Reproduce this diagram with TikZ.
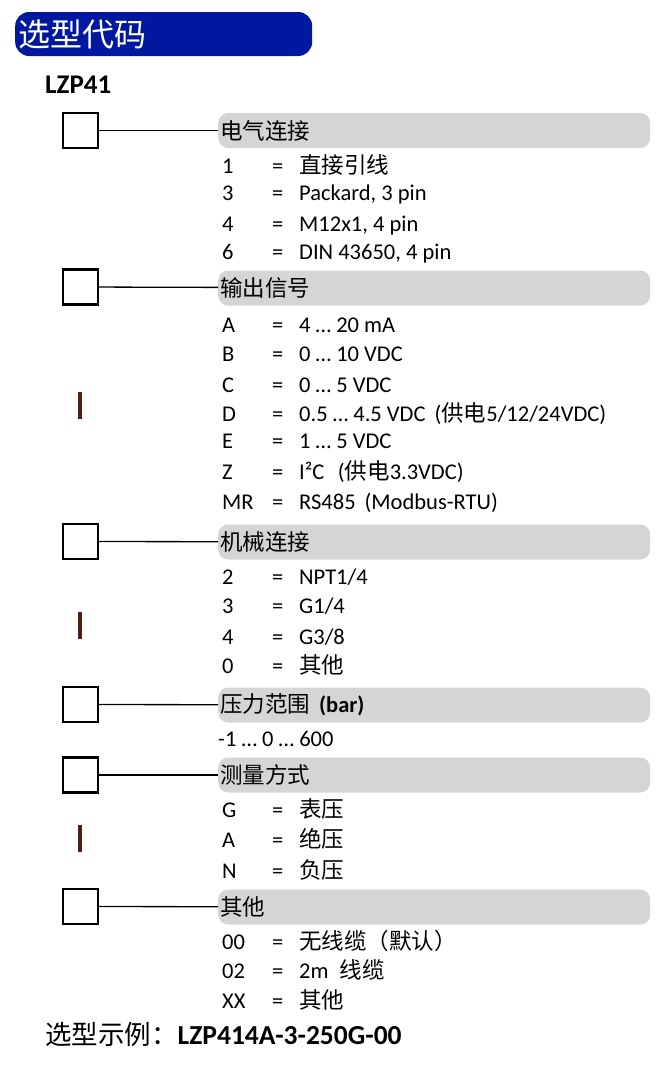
\documentclass[tikz,border=0pt]{standalone}
\usepackage{fontspec}
\setmainfont{Carlito}
\newfontfamily\cjk{Noto Sans CJK SC}
\usepackage{tikz}
\usetikzlibrary{positioning}
\definecolor{bleuTitre}{RGB}{0,24,160}
\definecolor{grisBarre}{RGB}{214,212,215}
\definecolor{brunTrait}{RGB}{80,30,22}
\newcommand{\zh}[1]{{\cjk #1}}
\newcommand{\corps}{\fontsize{22.5}{26}\selectfont}

\begin{document}
\begin{tikzpicture}[x=1pt,y=-1pt]
\tikzstyle{titre}=[fill=bleuTitre,rounded corners=14pt,anchor=west,inner xsep=3pt,minimum height=44pt,text width=291pt,align=left,text=white,font=\fontsize{32}{36}\selectfont\cjk]
\tikzstyle{case}=[draw,line width=2.2pt,minimum size=35pt,inner sep=0pt]
\tikzstyle{barre}=[fill=grisBarre,rounded corners=10pt,anchor=west,inner xsep=2pt,minimum height=35pt,text width=428pt,align=left,font=\corps]
\tikzstyle{lien}=[line width=1.3pt]
\tikzstyle{code}=[anchor=west,inner sep=0pt,text height=15pt,text depth=1pt,font=\corps]
\tikzstyle{trait}=[fill=brunTrait,minimum width=3.5pt,minimum height=27pt,inner sep=0pt]
\def\ColCode{222}
\def\ColEgal{272}
\def\ColValeur{299}
\def\Choix#1#2#3#4{%
\node[code] (#1c) at (\ColCode,#2) {#3};
\node[code] (#1e) at (\ColEgal,#2) {=};
\node[code] (#1v) at (\ColValeur,#2) {#4};}
\useasboundingbox (0,0) rectangle (664,1071);
% titre
\node[titre] (T) at (15,34) {选型代码};
\node[anchor=west,inner sep=0pt,font=\fontsize{27}{30}\selectfont\bfseries] (Ref) at (45,85) {LZP41};
% cases et barres
\node[case] (C1) at (80.5,130.5) {};
\node[barre] (B1) at (218,130.5) {\zh{电气连接}};
\node[case] (C2) at (80.5,287) {};
\node[barre] (B2) at (218,288) {\zh{输出信号}};
\node[case] (C3) at (80.5,541.5) {};
\node[barre] (B3) at (218,542) {\zh{机械连接}};
\node[case] (C4) at (80.5,704.5) {};
\node[barre] (B4) at (218,705) {\zh{压力范围}\hspace{0.4em}\textbf{(bar)}};
\node[case] (C5) at (80.5,775) {};
\node[barre] (B5) at (218,775) {\zh{测量方式}};
\node[case] (C6) at (80.5,906.5) {};
\node[barre] (B6) at (218,907) {\zh{其他}};
\draw[lien] (C1)--(B1);
\draw[lien] (C2)--(B2);
\draw[lien] (C3)--(B3);
\draw[lien] (C4)--(B4);
\draw[lien] (C5)--(B5);
\draw[lien] (C6)--(B6);
% traits
\node[trait] (M1) at (80,405) {};
\node[trait] (M2) at (80,625) {};
\node[trait] (M3) at (80,838) {};
% electrique
\Choix{a1}{166}{1}{\zh{直接引线}}
\Choix{a2}{193}{3}{Packard, 3 pin}
\Choix{a3}{224}{4}{M12x1, 4 pin}
\Choix{a4}{252}{6}{DIN 43650, 4 pin}
% sortie
\Choix{b1}{325}{A}{4 … 20 mA}
\Choix{b2}{354}{B}{0 … 10 VDC}
\Choix{b3}{385}{C}{0 … 5 VDC}
\Choix{b4}{414}{D}{0.5 … 4.5 VDC\hspace{0.4em}(\zh{供电}5/12/24VDC)}
\Choix{b5}{441}{E}{1 … 5 VDC}
\Choix{b6}{472}{Z}{I²C\hspace{0.6em}(\zh{供电}3.3VDC)}
\Choix{b7}{502}{MR}{RS485\hspace{0.4em}(Modbus-RTU)}
% mecanique
\Choix{c1}{577}{2}{NPT1/4}
\Choix{c2}{606}{3}{G1/4}
\Choix{c3}{637}{4}{G3/8}
\Choix{c4}{666}{0}{\zh{其他}}
% pression
\node[code] (d1) at (\ColCode-4,739) {-1 … 0 … 600};
% mesure
\Choix{e1}{810}{G}{\zh{表压}}
\Choix{e2}{840}{A}{\zh{绝压}}
\Choix{e3}{871}{N}{\zh{负压}}
% autre
\Choix{f1}{942}{00}{\zh{无线缆（默认）}}
\Choix{f2}{971}{02}{2m\hspace{0.5em}\zh{线缆}}
\Choix{f3}{1001}{XX}{\zh{其他}}
% exemple
\node[anchor=west,inner sep=0pt,font=\fontsize{26.5}{30}\selectfont] (Ex) at (45,1034) {\zh{选型示例：}{\fontsize{27.5}{30}\selectfont\bfseries LZP414A-3-250G-00}};
\end{tikzpicture}
\end{document}
